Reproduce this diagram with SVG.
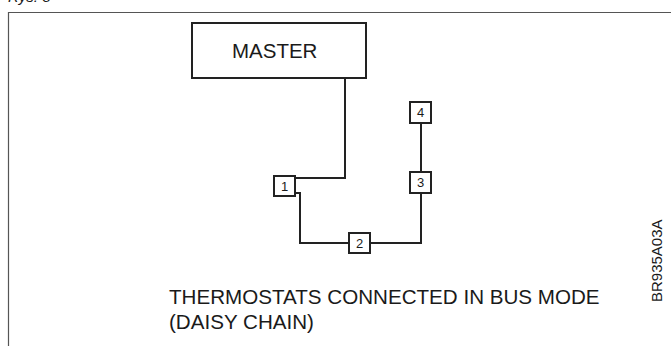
<svg xmlns="http://www.w3.org/2000/svg" width="671" height="346" viewBox="0 0 671 346">
<style>
.t{font-family:"Liberation Sans",Arial,sans-serif;fill:#1a1a1a}
.n{font-size:13px;text-anchor:middle}
.box{fill:#fff;stroke:#222;stroke-width:2}
.wire{fill:none;stroke:#222;stroke-width:2}
.frame{fill:none;stroke:#555;stroke-width:1.2}
</style>
<rect width="671" height="346" fill="#fff"/>
<text class="t" x="8" y="2" font-size="15" font-style="italic">Rys. 3</text>
<path class="frame" d="M671 12.5H8.5V346"/>
<g id="connectors">
<path class="wire" d="M345 78V178H295"/>
<path class="wire" d="M295 193H300V243H349"/>
<path class="wire" d="M370 243H421V193"/>
<path class="wire" d="M421 172V123"/>
</g>
<g id="master">
<rect class="box" x="192" y="23" width="174" height="55" stroke-width="1.6"/>
<text class="t" x="232" y="58" font-size="20.5">MASTER</text>
</g>
<g id="node1">
<rect class="box" x="274" y="176" width="21" height="20"/>
<text class="t n" x="284.5" y="191">1</text>
</g>
<g id="node2">
<rect class="box" x="349" y="233" width="21" height="20"/>
<text class="t n" x="359.5" y="248">2</text>
</g>
<g id="node3">
<rect class="box" x="410" y="172" width="21" height="21"/>
<text class="t n" x="420.5" y="187">3</text>
</g>
<g id="node4">
<rect class="box" x="410" y="102" width="21" height="21"/>
<text class="t n" x="420.5" y="117">4</text>
</g>
<text class="t" x="169" y="304" font-size="20.6">THERMOSTATS CONNECTED IN BUS MODE</text>
<text class="t" x="169" y="329" font-size="20.6">(DAISY CHAIN)</text>
<text class="t" transform="translate(662,302) rotate(-90)" font-size="15">BR935A03A</text>
</svg>
